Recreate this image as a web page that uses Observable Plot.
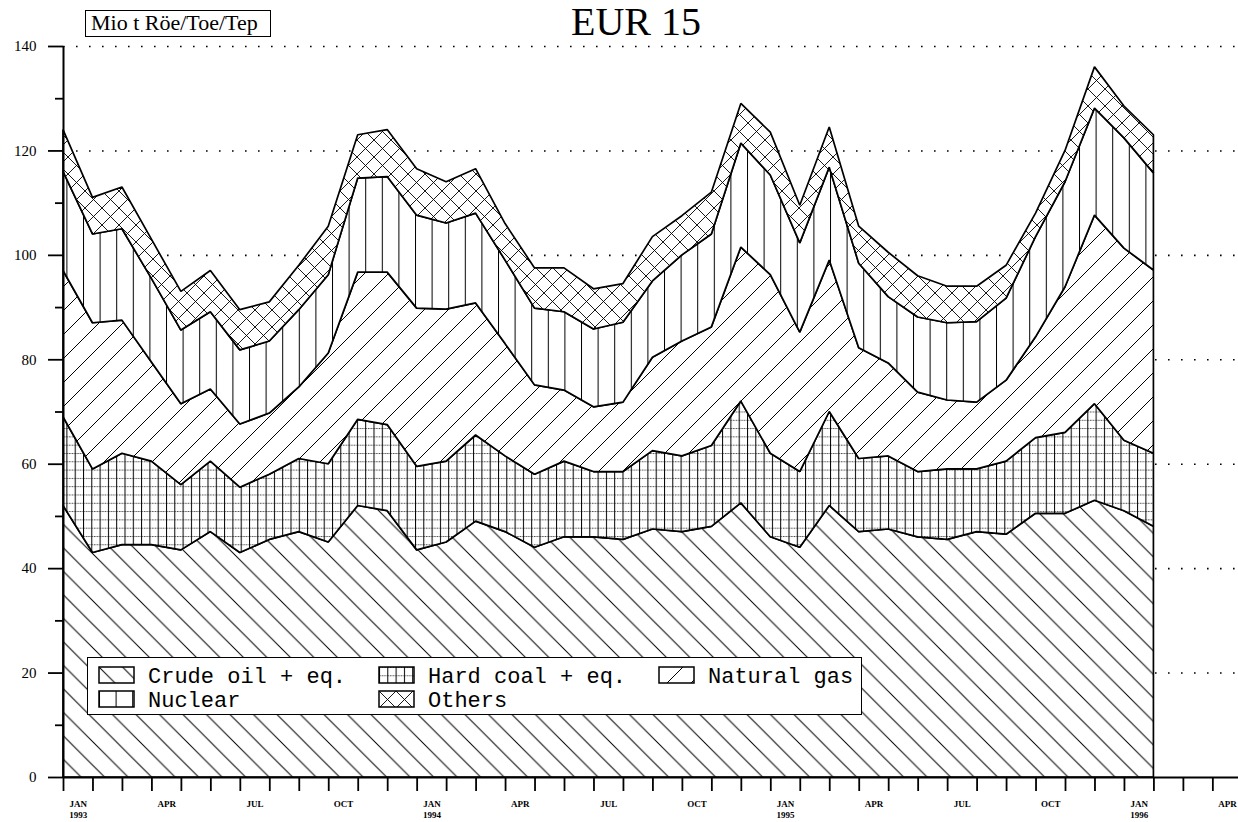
<!DOCTYPE html>
<html>
<head>
<meta charset="utf-8">
<script src="https://cdn.jsdelivr.net/npm/d3@7"></script>
<script src="https://cdn.jsdelivr.net/npm/@observablehq/plot@0.6"></script>
<style>
html, body { margin: 0; padding: 0; background: #fff; }
#page { position: relative; width: 1238px; height: 822px; overflow: hidden; background: #fff; }
#header { position: relative; height: 38px; }
#title { position: absolute; left: 536px; width: 200px; top: 2px; text-align: center;
  font-family: "Liberation Serif", serif; font-size: 40px; line-height: 40px; color: #000; }
#unit { position: absolute; left: 85px; top: 10px; width: 186px; height: 27px; box-sizing: border-box;
  border: 1.5px solid #000; font-family: "Liberation Serif", serif; font-size: 22px; line-height: 24px;
  padding-left: 5px; white-space: nowrap; color: #000; }
#legend { position: absolute; left: 87px; top: 657px; width: 775px; height: 58px; box-sizing: border-box;
  border: 1.6px solid #000; background: #fff; }
#legend svg { position: absolute; left: 0; top: 0; }
</style>
</head>
<body>
<svg width="0" height="0" style="position:absolute">
  <defs>
    <pattern id="p-oil" patternUnits="userSpaceOnUse" width="23.5" height="23.5">
      <rect width="23.5" height="23.5" fill="white"/>
      <path d="M-2,-2 L25.5,25.5 M21.5,-2 L25.5,2 M-2,21.5 L2,25.5" stroke="black" stroke-width="1" fill="none"/>
    </pattern>
    <pattern id="p-coal" patternUnits="userSpaceOnUse" width="8.3" height="8.3">
      <rect width="8.3" height="8.3" fill="white"/>
      <path d="M0.5,0 V8.3" stroke="black" stroke-width="1" fill="none"/>
      <path d="M0,0.5 H8.3" stroke="black" stroke-width="0.7" stroke-dasharray="1.6,1" fill="none"/>
    </pattern>
    <pattern id="p-gas" patternUnits="userSpaceOnUse" width="24" height="24">
      <rect width="24" height="24" fill="white"/>
      <path d="M-2,26 L26,-2 M-2,2 L2,-2 M22,26 L26,22" stroke="black" stroke-width="1" fill="none"/>
    </pattern>
    <pattern id="p-nuc" patternUnits="userSpaceOnUse" width="16.6" height="10">
      <rect width="16.6" height="10" fill="white"/>
      <path d="M0.5,0 V10" stroke="black" stroke-width="1" fill="none"/>
    </pattern>
    <pattern id="p-oth" patternUnits="userSpaceOnUse" width="17" height="17">
      <rect width="17" height="17" fill="white"/>
      <path d="M-2,-2 L19,19 M15,-2 L19,2 M-2,15 L2,19 M-2,19 L19,-2 M-2,2 L2,-2 M15,19 L19,15" stroke="black" stroke-width="0.9" fill="none"/>
    </pattern>
  </defs>
</svg>
<div id="page">
  <div id="header">
    <div id="unit">Mio t Röe/Toe/Tep</div>
    <div id="title">EUR 15</div>
  </div>
  <div id="chart"></div>
  <div id="legend"></div>
</div>
<script>
// Monthly values, Jan 1993 .. Feb 1996 (index 0 = Jan 1993)
const oil     = [52, 43, 44.5, 44.5, 43.5, 47, 43, 45.5, 47, 45, 52, 51, 43.5, 45, 49, 47, 44, 46, 46, 45.5, 47.5, 47, 48, 52.5, 46, 44, 52, 47, 47.5, 46, 45.5, 47, 46.5, 50.5, 50.5, 53, 51, 48];
const coal    = [17, 16, 17.5, 16, 12.5, 13.5, 12.5, 12.5, 14, 15, 16.5, 16.5, 16, 15.5, 16.5, 14.5, 14, 14.5, 12.5, 13, 15, 14.5, 15.5, 19.5, 16, 14.5, 18, 14, 14, 12.5, 13.5, 12, 14, 14.5, 15.5, 18.5, 13.5, 14];
const gas     = [28, 28, 25.5, 19, 15.5, 13.8, 12.1, 11.7, 13.7, 21.2, 28.2, 29.2, 30.3, 29.1, 25.3, 21.5, 17.1, 13.6, 12.4, 13.3, 17.9, 22, 22.7, 29.5, 34.2, 26.7, 29, 21.2, 17.8, 15.2, 13.2, 12.8, 15.5, 19.3, 27.9, 36.1, 36.8, 35.1];
const nuclear = [19, 17, 17.5, 16, 14.1, 14.8, 14.2, 13.8, 14.8, 15, 18, 18.3, 17.8, 16.5, 17.2, 16, 14.7, 15, 14.9, 15.3, 14.6, 16.5, 17.8, 19.9, 19.1, 17.1, 17.8, 16.2, 12.7, 14.4, 14.8, 15.4, 15.7, 19.2, 20.1, 20.5, 21.1, 18.6];
const others  = [8, 7, 8, 7.5, 7.4, 7.9, 7.7, 7.5, 8.5, 9.3, 8.3, 9, 8.9, 7.9, 8.5, 7, 7.7, 8.4, 7.7, 7.4, 8.5, 7.5, 8, 7.6, 8.2, 7.2, 7.7, 7.1, 8.5, 7.9, 7, 6.8, 6.3, 4.5, 6, 7.9, 6.1, 7.3];

const seriesNames = ["Crude oil + eq.", "Hard coal + eq.", "Natural gas", "Nuclear", "Others"];
const seriesValues = [oil, coal, gas, nuclear, others];
const patternIds = ["p-oil", "p-coal", "p-gas", "p-nuc", "p-oth"];

const monthLabels = ["JAN", "APR", "JUL", "OCT"];
const yearLabels = ["1993", "1994", "1995", "1996"];
const yMajorTicks = [0, 20, 40, 60, 80, 100, 120, 140];
const yMinorTicks = [10, 30, 50, 70, 90, 110, 130];
const gridValues = [20, 40, 60, 80, 100, 120, 140];
const monthCount = 40; // axis months Jan 1993 .. Apr 1996

// stacked table
const rows = [];
const n = oil.length;
const cum = new Array(n).fill(0);
seriesValues.forEach((vals, s) => {
  for (let i = 0; i < n; i++) {
    rows.push({i, series: seriesNames[s], y1: cum[i], y2: cum[i] + vals[i]});
    cum[i] += vals[i];
  }
});

const tickMonths = d3.range(0, monthCount);
const labelRows = d3.range(0, monthCount, 3).map(m => ({
  pos: m + 0.5,
  label: monthLabels[(m / 3) % 4] + (m % 12 === 0 ? "\n" + yearLabels[m / 12] : "")
}));

const areaMarks = seriesNames.map((name, s) =>
  Plot.areaY(rows.filter(r => r.series === name), {
    x: "i", y1: "y1", y2: "y2",
    fill: `url(#${patternIds[s]})`,
    stroke: "black", strokeWidth: 1.7, strokeLinejoin: "miter"
  })
);

const chart = Plot.plot({
  width: 1238,
  height: 784,
  marginLeft: 63,
  marginRight: 0,
  marginTop: 8,
  marginBottom: 45,
  style: {background: "white", color: "black", fontFamily: "Liberation Serif, serif", overflow: "visible"},
  x: {type: "linear", domain: [0, 39.87]},
  y: {domain: [0, 140]},
  marks: [
    Plot.ruleY(gridValues, {stroke: "black", strokeWidth: 1.6, strokeDasharray: "1.6,11.4"}),
    ...areaMarks,
    Plot.axisY({ticks: yMajorTicks, tickSize: 15, tickPadding: 12, fontSize: 15, strokeWidth: 1.8, label: null}),
    Plot.axisY({ticks: yMinorTicks, tickSize: 8, tickFormat: () => "", strokeWidth: 1.8, label: null}),
    Plot.axisX({ticks: tickMonths, tickSize: 14, tickFormat: () => "", strokeWidth: 1.8, label: null}),
    Plot.text(labelRows, {x: "pos", y: 0, text: "label", dy: 21, lineAnchor: "top", lineHeight: 1.25,
      fontSize: 9, fontWeight: "bold", fontFamily: "Liberation Serif, serif"}),
    Plot.ruleX([0], {y1: 0, y2: 140, stroke: "black", strokeWidth: 2}),
    Plot.ruleY([0], {stroke: "black", strokeWidth: 2})
  ]
});
document.getElementById("chart").appendChild(chart);

// legend
const lg = d3.select("#legend").append("svg").attr("width", 772).attr("height", 55);
const legendItems = seriesNames.map((name, s) => ({name, pat: patternIds[s], col: s % 3, row: Math.floor(s / 3)}));
const colX = [11, 291, 571];
const rowY = [9, 33];
legendItems.forEach(it => {
  const g = lg.append("g").attr("transform", `translate(${colX[it.col]},${rowY[it.row]})`);
  g.append("rect").attr("width", 35).attr("height", 16)
    .attr("fill", `url(#${it.pat})`).attr("stroke", "black").attr("stroke-width", 1.5);
  g.append("text").attr("x", 49).attr("y", 15.5)
    .attr("font-family", "Liberation Mono, monospace").attr("font-size", 22)
    .attr("fill", "black").text(it.name);
});
</script>
</body>
</html>
